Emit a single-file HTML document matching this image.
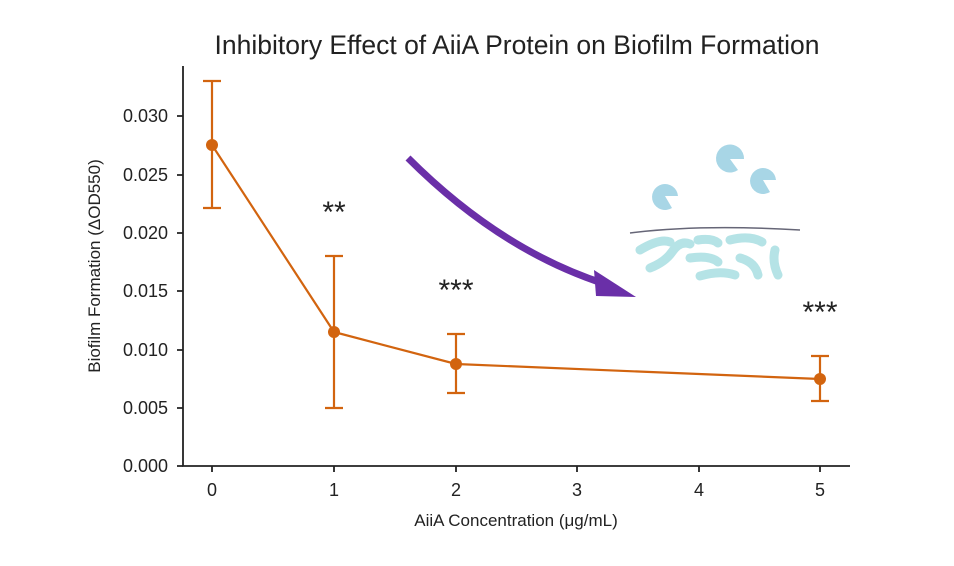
<!DOCTYPE html>
<html><head><meta charset="utf-8"><style>html,body{margin:0;padding:0;background:#fff}svg{display:block}text{font-family:"Liberation Sans",sans-serif;fill:#222}</style></head><body>
<svg width="954" height="566" viewBox="0 0 954 566" xmlns="http://www.w3.org/2000/svg">
<text x="517" y="54" font-size="26.5" text-anchor="middle">Inhibitory Effect of AiiA Protein on Biofilm Formation</text>
<g stroke="#222" stroke-width="1.8" fill="none">
<path d="M183 66V466H850"/>
<path d="M177 466h6M177 408h6M177 350h6M177 291h6M177 233h6M177 175h6M177 116h6"/>
<path d="M212 466v6M334 466v6M456 466v6M577 466v6M699 466v6M820 466v6"/>
</g>
<g font-size="18" text-anchor="end">
<text x="168" y="472">0.000</text><text x="168" y="414">0.005</text><text x="168" y="356">0.010</text><text x="168" y="297">0.015</text><text x="168" y="239">0.020</text><text x="168" y="181">0.025</text><text x="168" y="122">0.030</text>
</g>
<g font-size="18" text-anchor="middle">
<text x="212" y="496">0</text><text x="334" y="496">1</text><text x="456" y="496">2</text><text x="577" y="496">3</text><text x="699" y="496">4</text><text x="820" y="496">5</text>
</g>
<text x="516" y="526" font-size="17" text-anchor="middle">AiiA Concentration (μg/mL)</text>
<text transform="translate(100,266) rotate(-90)" font-size="17" text-anchor="middle">Biofilm Formation (ΔOD550)</text>
<g stroke="#d2640f" stroke-width="2.2" fill="none">
<path d="M212 145L334 332L456 364L820 379"/>
<path d="M212 81V208M203 81h18M203 208h18"/>
<path d="M334 256V408M325 256h18M325 408h18"/>
<path d="M456 334V393M447 334h18M447 393h18"/>
<path d="M820 356V401M811 356h18M811 401h18"/>
</g>
<g fill="#d2640f"><circle cx="212" cy="145" r="6"/><circle cx="334" cy="332" r="6"/><circle cx="456" cy="364" r="6"/><circle cx="820" cy="379" r="6"/></g>
<g font-size="30" text-anchor="middle"><text x="334" y="222">**</text><text x="456" y="300">***</text><text x="820" y="322">***</text></g>
<path d="M408 158Q500 250 605 284" stroke="#6a2fa8" stroke-width="7" fill="none"/>
<path d="M594 270L636 297L596 296Z" fill="#6a2fa8"/>
<g fill="#a8d6e6">
<path d="M665 196L672 208A13 13 0 1 1 678 196Z"/>
<path d="M730 159L738 170A14 14 0 1 1 744 159Z"/>
<path d="M763 180L770 192A13 13 0 1 1 776 180Z"/>
</g>
<path d="M630 233Q700 224 800 230" stroke="#667" stroke-width="1.5" fill="none"/>
<g stroke="#b5e3e6" stroke-width="9" stroke-linecap="round" fill="none">
<path d="M640 250Q660 238 670 242"/>
<path d="M650 268Q665 262 672 252Q680 240 690 244"/>
<path d="M690 258Q710 255 718 262"/>
<path d="M700 276Q720 270 735 275"/>
<path d="M730 240Q750 235 762 242"/>
<path d="M740 258Q755 262 758 275"/>
<path d="M775 250Q772 262 778 275"/>
<path d="M698 240Q712 238 718 243"/>
</g>
</svg>
</body></html>
